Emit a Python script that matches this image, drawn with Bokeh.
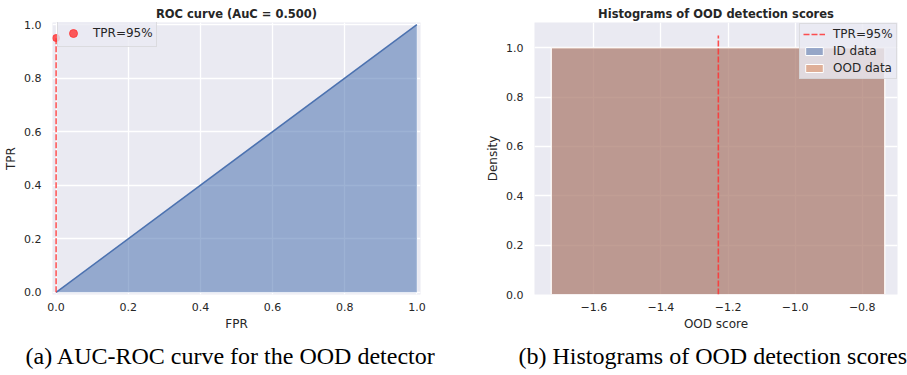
from bokeh.plotting import figure
from bokeh.layouts import row
from bokeh.models import Title, Legend, LegendItem, FixedTicker, CustomJSTickFormatter, Range1d
from bokeh.embed import file_html
from bokeh.resources import INLINE

# ROC data
fpr = [0.0, 1.0]
tpr = [0.0, 1.0]
auc = 0.5
fpr_at_95 = [0.0]
tpr_95 = [0.95]

# Histogram data (single bin each)
id_left = [-1.727]
id_right = [-0.733]
id_density = [1.0]
ood_left = [-1.727]
ood_right = [-0.733]
ood_density = [1.0]
threshold = -1.229
threshold_top = 1.05

BG = "#EAEAF2"
BLUE = "#4C72B0"
ORANGE = "#DD8452"
RED = "#FF3333"
FONT = "DejaVu Sans"
SERIF = "Liberation Serif"
DASH = "6 2"


def style(p):
    p.background_fill_color = BG
    p.border_fill_color = "white"
    p.outline_line_color = None
    for ax in (p.xaxis[0], p.yaxis[0]):
        ax.axis_line_color = None
        ax.major_tick_line_color = None
        ax.minor_tick_line_color = None
        ax.major_tick_out = 0
        ax.major_tick_in = 0
        ax.minor_tick_out = 0
        ax.minor_tick_in = 0
        ax.major_label_text_font = FONT
        ax.major_label_text_font_size = "11px"
        ax.major_label_text_color = "#262626"
        ax.axis_label_text_font = FONT
        ax.axis_label_text_font_size = "12px"
        ax.axis_label_text_font_style = "normal"
        ax.axis_label_text_color = "#262626"
    p.yaxis.major_label_standoff = 11
    p.yaxis.axis_label_standoff = 3
    p.xaxis.major_label_standoff = 8
    p.xaxis.axis_label_standoff = 3
    p.grid.grid_line_color = "white"
    p.grid.grid_line_width = 1.3
    p.title.text_font = FONT
    p.title.text_font_size = "11.5px"
    p.title.text_font_style = "bold"
    p.title.text_color = "#262626"
    p.title.align = "center"
    p.title.standoff = 4


def caption(p, text, offset):
    p.add_layout(Title(text=text, align="left", offset=offset, text_font=SERIF,
                       text_font_size="24px", text_font_style="normal",
                       text_color="black", standoff=14), "below")


# ---------- ROC ----------
p1 = figure(width=453, height=375, output_backend="svg", toolbar_location=None,
            x_range=Range1d(-0.01, 1.01), y_range=Range1d(-0.008, 1.008),
            title="ROC curve (AuC = %.3f)" % auc,
            min_border_left=52, min_border_right=33, min_border_top=22, min_border_bottom=80)
p1.varea(x=fpr, y1=[0, 0], y2=tpr, fill_color=BLUE, fill_alpha=0.55)
p1.line(fpr, tpr, line_color=BLUE, line_width=1.5)
p1.segment(x0=fpr_at_95, y0=[0], x1=fpr_at_95, y1=tpr_95, line_color=RED, line_alpha=0.85,
           line_width=1.5, line_dash=DASH)
pt = p1.scatter(fpr_at_95, tpr_95, size=7, color=RED, alpha=0.8)
p1.xaxis.axis_label = "FPR"
p1.yaxis.axis_label = "TPR"
p1.xaxis.ticker = FixedTicker(ticks=[0, 0.2, 0.4, 0.6, 0.8, 1.0])
p1.yaxis.ticker = FixedTicker(ticks=[0, 0.2, 0.4, 0.6, 0.8, 1.0])
fmt1 = CustomJSTickFormatter(code="return tick.toFixed(1);")
p1.xaxis.formatter = fmt1
p1.yaxis.formatter = fmt1
style(p1)
leg1 = Legend(items=[LegendItem(label="TPR=95%", renderers=[pt])], location=(5, 247),
              background_fill_color=BG, background_fill_alpha=0.8,
              border_line_color="#CCCCCC", label_text_font=FONT, label_text_font_size="12px",
              label_text_color="#262626", margin=0, padding=3, spacing=2,
              glyph_width=24, label_height=14, label_standoff=8)
p1.add_layout(leg1)
caption(p1, "(a) AUC-ROC curve for the OOD detector", -27)

# ---------- Histogram ----------
p2 = figure(width=454, height=375, output_backend="svg", toolbar_location=None,
            x_range=Range1d(-1.777, -0.695), y_range=Range1d(0, 1.1025),
            title="Histograms of OOD detection scores",
            min_border_left=81, min_border_right=10, min_border_top=22, min_border_bottom=80)
q_id = p2.quad(left=id_left, right=id_right, bottom=[0], top=id_density,
               fill_color=BLUE, fill_alpha=0.5, line_color="white", line_width=1)
q_ood = p2.quad(left=ood_left, right=ood_right, bottom=[0], top=ood_density,
                fill_color=ORANGE, fill_alpha=0.5, line_color="white", line_width=1)
vl = p2.segment(x0=[threshold], y0=[0], x1=[threshold], y1=[threshold_top], line_color=RED,
                line_alpha=0.85, line_width=1.6, line_dash=DASH)
p2.xaxis.axis_label = "OOD score"
p2.yaxis.axis_label = "Density"
p2.xaxis.ticker = FixedTicker(ticks=[-1.6, -1.4, -1.2, -1.0, -0.8])
p2.yaxis.ticker = FixedTicker(ticks=[0, 0.2, 0.4, 0.6, 0.8, 1.0])
p2.xaxis.formatter = CustomJSTickFormatter(code="return tick.toFixed(1).replace('-', '\\u2212');")
p2.yaxis.formatter = CustomJSTickFormatter(code="return tick.toFixed(1);")
style(p2)
leg2 = Legend(items=[LegendItem(label="TPR=95%", renderers=[vl]),
                     LegendItem(label="ID data", renderers=[q_id]),
                     LegendItem(label="OOD data", renderers=[q_ood])],
              location=(265, 215),
              background_fill_color=BG, background_fill_alpha=0.8,
              border_line_color="#CCCCCC", label_text_font=FONT, label_text_font_size="12px",
              label_text_color="#262626", margin=0, padding=3, spacing=3,
              glyph_width=22, glyph_height=10, label_height=14, label_standoff=8)
p2.add_layout(leg2)
caption(p2, "(b) Histograms of OOD detection scores", -16)

layout = row(p1, p2)
open("out.html", "w").write(file_html(layout, INLINE))
